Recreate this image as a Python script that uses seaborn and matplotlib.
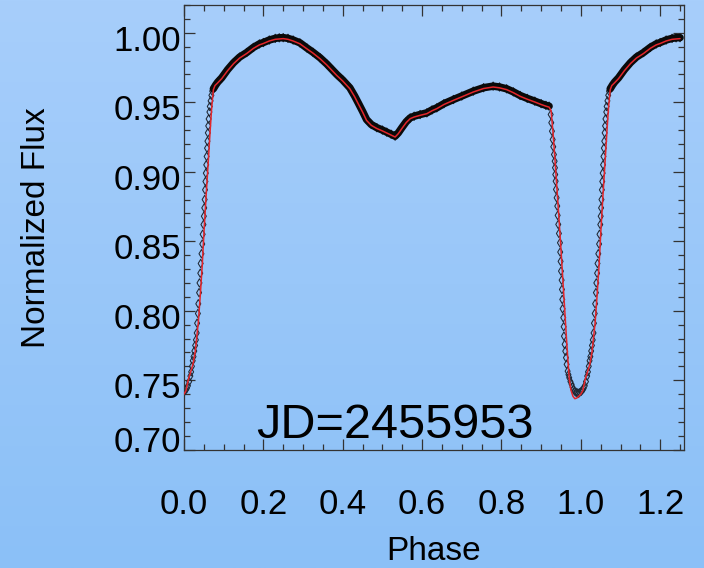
import numpy as np
import pandas as pd
import matplotlib
matplotlib.use("Agg")
import matplotlib.pyplot as plt
from matplotlib.colors import LinearSegmentedColormap
from matplotlib.ticker import MultipleLocator
from matplotlib.transforms import ScaledTranslation
import seaborn as sns

# ---- light-curve data (phase, normalized flux) ----
# egress of the primary eclipse (individual observations)
egress_obs = [
    (0.001, 0.742), (0.004, 0.743), (0.007, 0.744), (0.010, 0.746),
    (0.013, 0.749), (0.016, 0.753), (0.018, 0.756), (0.020, 0.760),
    (0.022, 0.764), (0.024, 0.767), (0.026, 0.771), (0.028, 0.775),
    (0.030, 0.779), (0.032, 0.784), (0.033, 0.791), (0.035, 0.798),
    (0.036, 0.805), (0.038, 0.813), (0.039, 0.820), (0.041, 0.827),
    (0.042, 0.834), (0.044, 0.841), (0.046, 0.848), (0.047, 0.855),
    (0.049, 0.862), (0.050, 0.868), (0.051, 0.874), (0.052, 0.880),
    (0.053, 0.887), (0.054, 0.893), (0.055, 0.899), (0.056, 0.905),
    (0.057, 0.911), (0.058, 0.917), (0.059, 0.922), (0.060, 0.928),
    (0.061, 0.933), (0.062, 0.938), (0.064, 0.943), (0.065, 0.947),
    (0.067, 0.951), (0.069, 0.955), (0.071, 0.958),
]

# out-of-eclipse observations (dense, forming a continuous band)
outside_obs = [
    (0.074, 0.9597), (0.080, 0.9625), (0.085, 0.9645), (0.095, 0.9676),
    (0.110, 0.9735), (0.125, 0.9785), (0.140, 0.9825), (0.158, 0.9858),
    (0.175, 0.9895), (0.190, 0.9920), (0.200, 0.9930), (0.215, 0.9948),
    (0.230, 0.9960), (0.240, 0.9964), (0.250, 0.9965), (0.262, 0.9960),
    (0.275, 0.9948), (0.292, 0.9928), (0.310, 0.9890), (0.325, 0.9860),
    (0.343, 0.9820), (0.360, 0.9775), (0.375, 0.9730), (0.385, 0.9700),
    (0.400, 0.9660), (0.418, 0.9604), (0.430, 0.9545), (0.439, 0.9496),
    (0.450, 0.9435), (0.460, 0.9376), (0.472, 0.9340), (0.486, 0.9317),
    (0.500, 0.9300), (0.511, 0.9285), (0.522, 0.9270), (0.532, 0.9256),
    (0.540, 0.9280), (0.549, 0.9317), (0.560, 0.9360), (0.570, 0.9388),
    (0.580, 0.9400), (0.595, 0.9412), (0.612, 0.9424), (0.625, 0.9445),
    (0.637, 0.9460), (0.655, 0.9490), (0.679, 0.9520), (0.700, 0.9545),
    (0.729, 0.9580), (0.755, 0.9605), (0.779, 0.9616), (0.795, 0.9610),
    (0.813, 0.9597), (0.830, 0.9575), (0.847, 0.9549), (0.865, 0.9528),
    (0.884, 0.9508), (0.900, 0.9490), (0.912, 0.9478), (0.920, 0.9472),
]

# ingress of the primary eclipse (individual observations)
ingress_obs = [
    (0.9240, 0.9412), (0.9255, 0.9353), (0.9272, 0.9292), (0.9290, 0.9232),
    (0.9305, 0.9180), (0.9322, 0.9124), (0.9340, 0.9076), (0.9348, 0.9029),
    (0.9355, 0.8980), (0.9365, 0.8932), (0.9373, 0.8873), (0.9390, 0.8813),
    (0.9406, 0.8753), (0.9416, 0.8686), (0.9431, 0.8621), (0.9448, 0.8556),
    (0.9474, 0.8489), (0.9480, 0.8422), (0.9490, 0.8355), (0.9500, 0.8285),
    (0.9516, 0.8220), (0.9524, 0.8153), (0.9532, 0.8081), (0.9540, 0.8014),
    (0.9557, 0.7950), (0.9567, 0.7885), (0.9574, 0.7817), (0.9592, 0.7758),
    (0.9607, 0.7709), (0.9625, 0.7662), (0.9642, 0.7614), (0.9667, 0.7565),
    (0.9688, 0.7540), (0.9708, 0.7518), (0.9738, 0.7490), (0.9768, 0.7470),
    (0.9790, 0.7450), (0.9809, 0.7434), (0.9840, 0.7422), (0.9877, 0.7414),
    (0.9905, 0.7410), (0.9934, 0.7405), (0.9965, 0.7410),
]

# best-fit model curve
model_fit = [
    (0.000, 0.7400), (0.005, 0.7425), (0.011, 0.7506), (0.017, 0.7560),
    (0.023, 0.7620), (0.028, 0.7700), (0.036, 0.7914), (0.041, 0.8110),
    (0.046, 0.8330), (0.051, 0.8600), (0.056, 0.8840), (0.0615, 0.9090),
    (0.066, 0.9300), (0.070, 0.9470), (0.074, 0.9590), (0.078, 0.9620),
    (0.085, 0.9640), (0.095, 0.9670), (0.110, 0.9728), (0.125, 0.9778),
    (0.140, 0.9818), (0.158, 0.9851), (0.175, 0.9888), (0.190, 0.9913),
    (0.200, 0.9923), (0.215, 0.9941), (0.230, 0.9953), (0.250, 0.9958),
    (0.262, 0.9953), (0.275, 0.9941), (0.292, 0.9921), (0.310, 0.9884),
    (0.325, 0.9854), (0.343, 0.9813), (0.360, 0.9768), (0.375, 0.9723),
    (0.385, 0.9693), (0.400, 0.9653), (0.418, 0.9597), (0.430, 0.9540),
    (0.439, 0.9490), (0.450, 0.9430), (0.460, 0.9370), (0.472, 0.9334),
    (0.486, 0.9311), (0.500, 0.9294), (0.511, 0.9279), (0.522, 0.9264),
    (0.532, 0.9250), (0.540, 0.9274), (0.549, 0.9311), (0.560, 0.9354),
    (0.570, 0.9382), (0.580, 0.9394), (0.595, 0.9406), (0.612, 0.9418),
    (0.625, 0.9439), (0.637, 0.9454), (0.655, 0.9484), (0.679, 0.9514),
    (0.700, 0.9539), (0.729, 0.9574), (0.755, 0.9599), (0.779, 0.9610),
    (0.795, 0.9604), (0.813, 0.9591), (0.830, 0.9569), (0.847, 0.9543),
    (0.865, 0.9522), (0.884, 0.9502), (0.900, 0.9484), (0.912, 0.9472),
    (0.920, 0.9465), (0.925, 0.9440), (0.930, 0.9280), (0.935, 0.9080),
    (0.940, 0.8870), (0.945, 0.8660), (0.950, 0.8440), (0.955, 0.8210),
    (0.960, 0.7980), (0.964, 0.7793), (0.968, 0.7620), (0.971, 0.7506),
    (0.975, 0.7430), (0.980, 0.7385), (0.985, 0.7367), (0.990, 0.7372),
    (0.995, 0.7385), (1.000, 0.7400),
]

x_ticks = [0.0, 0.2, 0.4, 0.6, 0.8, 1.0, 1.2]
x_tick_labels = ["0.0", "0.2", "0.4", "0.6", "0.8", "1.0", "1.2"]
y_ticks = [0.70, 0.75, 0.80, 0.85, 0.90, 0.95, 1.00]
y_tick_labels = ["0.70", "0.75", "0.80", "0.85", "0.90", "0.95", "1.00"]

julian_date = "JD=2455953"
phase_extent = 1.25   # curve is repeated past phase 1 up to this phase

BG_TOP = "#a7cefb"
BG_BOTTOM = "#8bc0f7"


def to_frame(points, segment):
    df = pd.DataFrame(points, columns=["phase", "flux"])
    df["segment"] = segment
    return df


def fold(df):
    """Repeat the start of the cycle after phase 1."""
    extra = df[df["phase"] <= phase_extent - 1 + 1e-6].copy()
    extra["phase"] = extra["phase"] + 1.0
    extra["segment"] = extra["segment"] + "_next"
    return pd.concat([df, extra], ignore_index=True)


obs = fold(pd.concat([to_frame(egress_obs, "egress"),
                      to_frame(outside_obs, "outside"),
                      to_frame(ingress_obs, "ingress")], ignore_index=True))
band = obs[obs["segment"].str.startswith("outside")]
model = fold(to_frame(model_fit, "model"))

# ---- styling ----
sns.set_theme(style="ticks")
plt.rcParams["font.family"] = ["Liberation Sans", "DejaVu Sans"]
plt.rcParams["axes.edgecolor"] = "#333333"
plt.rcParams["axes.linewidth"] = 0.9
plt.rcParams["text.color"] = "black"
plt.rcParams["axes.labelcolor"] = "black"

fig = plt.figure(figsize=(7.04, 5.68), dpi=100)
fig.patch.set_facecolor(BG_BOTTOM)

# vertical sky-blue gradient behind everything
bg = fig.add_axes([0, 0, 1, 1], zorder=-10)
grad = np.linspace(0, 1, 256).reshape(-1, 1)
bg.imshow(grad, aspect="auto", extent=[0, 1, 0, 1], origin="upper",
          cmap=LinearSegmentedColormap.from_list("sky", [BG_TOP, BG_BOTTOM]))
bg.set_axis_off()

W, H = 704, 568
left, right, top, bottom = 184, 684, 5, 449.7
ax = fig.add_axes([left / W, 1 - bottom / H, (right - left) / W, (bottom - top) / H])
ax.set_facecolor("none")

# observations: open diamonds, plus the dense band outside eclipse
sns.scatterplot(data=obs, x="phase", y="flux", marker="d", s=18,
                facecolor="none", edgecolor="#1f2733", linewidth=0.75,
                legend=False, ax=ax, zorder=2)
sns.lineplot(data=band, x="phase", y="flux", units="segment", estimator=None,
             color="#0a0a0a", lw=5.4, solid_capstyle="round",
             legend=False, ax=ax, zorder=3)
# model fit
sns.lineplot(data=model, x="phase", y="flux", estimator=None,
             color="#e3262b", lw=1.1, legend=False, ax=ax, zorder=4)

ax.set_xlim(0, 1.26)
ax.set_ylim(0.70, 1.02)
ax.set_xticks(x_ticks, x_tick_labels)
ax.set_yticks(y_ticks, y_tick_labels)
ax.xaxis.set_minor_locator(MultipleLocator(0.05))
ax.yaxis.set_minor_locator(MultipleLocator(0.01))
for side in ["top", "right", "left", "bottom"]:
    ax.spines[side].set_visible(True)
    ax.spines[side].set_color("#333333")

ax.tick_params(which="both", direction="in", top=True, right=True,
               color="#333333", width=0.9, labelcolor="black", labelsize=25)
ax.tick_params(which="major", length=7.8)
ax.tick_params(which="minor", length=4.2)
ax.tick_params(axis="x", which="major", pad=27.5)
ax.tick_params(axis="y", which="major", pad=2.2)

# value labels sit slightly below their ticks; the lowest one is lifted
for lab, val in zip(ax.get_yticklabels(), y_ticks):
    dy = 11 if abs(val - 0.70) < 1e-9 else -5
    lab.set_transform(lab.get_transform() +
                      ScaledTranslation(0, dy / 100, fig.dpi_scale_trans))

ax.set_xlabel("Phase", fontsize=24)
ax.set_ylabel("Normalized Flux", fontsize=24)
ax.xaxis.set_label_coords(0.5, (bottom - 536) / (bottom - top))
ax.yaxis.set_label_coords((52 - left) / (right - left), 0.5)

ax.text(0.532, 0.7082, julian_date, fontsize=35, ha="center", va="baseline",
        color="black", zorder=5)

fig.savefig("out.png", dpi=100)
